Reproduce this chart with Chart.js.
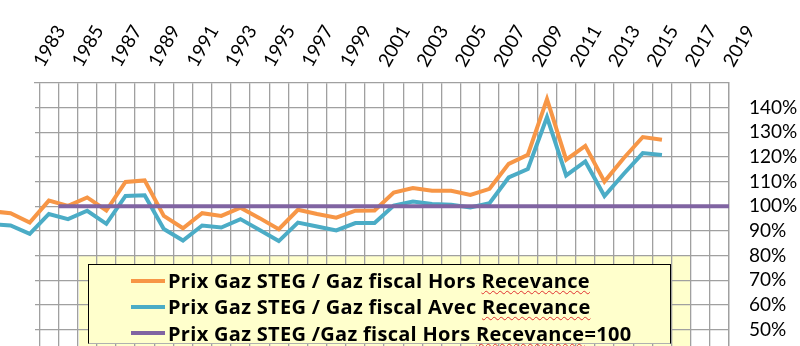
<!DOCTYPE html>
<html>
<head>
<meta charset="utf-8">
<script src="https://cdn.jsdelivr.net/npm/chart.js@4.4.1/dist/chart.umd.min.js"></script>
<style>
  html, body { margin: 0; padding: 0; background: #fff; }
  #wrap { position: relative; width: 800px; height: 346px; overflow: hidden; }
  #legend {
    position: absolute; left: 88px; top: 264px; width: 583px; height: 80px;
    box-sizing: border-box; padding-top: 2.5px;
    background: #ffffcc; border: 1.2px solid #000; border-bottom-color: #b0b0b0;
    font: bold 20px "Open Sans", Lato, sans-serif; letter-spacing: 0.3px; color: #000;
  }
  #legend .row { display: flex; align-items: center; height: 26.3px; white-space: nowrap; }
  #legend .swatch { width: 34px; height: 4px; margin-left: 42px; margin-right: 3px; }
  #legend .sp { text-decoration: underline wavy #e03030; text-decoration-thickness: 1px; text-underline-offset: 2px; }
</style>
</head>
<body>
<div id="wrap">
  <canvas id="chart"></canvas>
  <div id="legend"></div>
</div>
<script>
// years of the two price ratio series (each point sits mid-year)
const years = [1980, 1981, 1982, 1983, 1984, 1985, 1986, 1987, 1988, 1989,
  1990, 1991, 1992, 1993, 1994, 1995, 1996, 1997, 1998, 1999,
  2000, 2001, 2002, 2003, 2004, 2005, 2006, 2007, 2008, 2009,
  2010, 2011, 2012, 2013, 2014, 2015];

const horsRecevance = [98.0, 97.2, 93.4, 102.3, 100.2, 103.6, 98.3, 109.9, 110.5, 96.1,
  91.1, 97.2, 96.1, 99.4, 95.2, 90.7, 98.6, 96.9, 95.4, 98.2,
  98.3, 105.6, 107.4, 106.3, 106.3, 104.6, 107.1, 117.2, 120.9, 143.5,
  118.9, 124.5, 110.0, 119.5, 128.1, 127.0];

const avecRecevance = [92.8, 92.2, 88.8, 96.9, 94.8, 98.2, 92.9, 104.2, 104.5, 90.8,
  86.1, 92.2, 91.4, 94.8, 90.4, 85.9, 93.4, 91.8, 90.2, 93.2,
  93.2, 100.3, 101.9, 100.9, 100.6, 99.5, 101.3, 111.7, 115.1, 136.2,
  112.5, 118.2, 104.2, 113.1, 121.6, 120.8];

// reference line (base 100)
const refYears = [1984, 2019];
const refValues = [100, 100];

const xLabels = ["1983", "1985", "1987", "1989", "1991", "1993", "1995", "1997", "1999",
  "2001", "2003", "2005", "2007", "2009", "2011", "2013", "2015", "2017", "2019"];
const yTicks = [50, 60, 70, 80, 90, 100, 110, 120, 130, 140];

const seriesLabels = [
  "Prix Gaz STEG / Gaz fiscal Hors Recevance",
  "Prix Gaz STEG / Gaz fiscal Avec Recevance",
  "Prix Gaz STEG /Gaz fiscal Hors Recevance=100"
];
const colors = ["#f79646", "#4bacc6", "#8064a2"];

const X_MIN = 1982.776;
const X_MAX = 2019;
const GRID = "#a0a0a0";
const FONT = "Lato, 'Open Sans', sans-serif";

function points(xs, ys, shift) {
  return xs.map((x, i) => ({ x: x + shift, y: ys[i] }));
}

function setXRange(scale) {
  scale.min = X_MIN;
  scale.max = X_MAX;
}

// white page + pale yellow panel under the grid
const backgroundPlugin = {
  id: "background",
  beforeDraw(chart) {
    const ctx = chart.ctx;
    ctx.save();
    ctx.fillStyle = "#ffffff";
    ctx.fillRect(0, 0, chart.width, chart.height);
    ctx.fillStyle = "#ffffcc";
    ctx.fillRect(79, 256, 690.7 - 79, chart.height - 256);
    ctx.restore();
  }
};

function renderLegend() {
  const target = document.getElementById("legend");
  target.innerHTML = seriesLabels.map((label, i) => {
    const k = label.indexOf("Recevance");
    const text = label.slice(0, k) + '<span class="sp">Recevance</span>' + label.slice(k + 9);
    return `<div class="row"><span class="swatch" style="background:${colors[i]}"></span><span>${text}</span></div>`;
  }).join("");
}

renderLegend();

new Chart(document.getElementById("chart"), {
  type: "line",
  data: {
    datasets: [
      { label: seriesLabels[0], data: points(years, horsRecevance, 0.5), borderColor: colors[0], order: 2 },
      { label: seriesLabels[1], data: points(years, avecRecevance, 0.5), borderColor: colors[1], order: 1 },
      { label: seriesLabels[2], data: points(refYears, refValues, 0), borderColor: colors[2], order: 0 }
    ]
  },
  options: {
    responsive: true,
    maintainAspectRatio: false,
    animation: false,
    events: [],
    clip: false,
    layout: { padding: { left: 35, right: 0, top: 0, bottom: 0 } },
    elements: {
      point: { radius: 0 },
      line: { borderWidth: 4, tension: 0, fill: false }
    },
    plugins: {
      legend: { display: false },
      tooltip: { enabled: false }
    },
    scales: {
      x: {
        type: "linear",
        position: "top",
        bounds: "data",
        afterDataLimits: setXRange,
        afterFit(scale) {
          scale.height = 83;
          scale.paddingLeft = 0;
          scale.paddingRight = 0;
        },
        afterBuildTicks(scale) {
          const ticks = [];
          for (let yr = 1983; yr <= 2019; yr++) ticks.push({ value: yr });
          scale.ticks = ticks;
          setXRange(scale);
        },
        grid: { color: GRID, lineWidth: 1.3, drawTicks: false },
        border: { display: true, color: GRID, width: 1.3 },
        ticks: {
          autoSkip: false,
          minRotation: 60,
          maxRotation: 60,
          padding: 12,
          labelOffset: 19,
          color: "#000",
          font: { family: FONT, size: 19 },
          callback(value) {
            const s = String(value);
            return xLabels.includes(s) ? s : "";
          }
        }
      },
      y: {
        type: "linear",
        position: "right",
        min: 43.35,
        max: 150,
        afterFit(scale) {
          scale.width = 71;
          scale.paddingTop = 0;
          scale.paddingBottom = 0;
        },
        afterBuildTicks(scale) {
          scale.ticks = yTicks.map((v) => ({ value: v }));
        },
        grid: { color: GRID, lineWidth: 1.3, drawTicks: false },
        border: { display: true, color: GRID, width: 1.3 },
        ticks: {
          padding: 20,
          color: "#000",
          font: { family: FONT, size: 19 },
          callback(value) { return value + "%"; }
        }
      }
    }
  },
  plugins: [backgroundPlugin]
});
</script>
</body>
</html>
